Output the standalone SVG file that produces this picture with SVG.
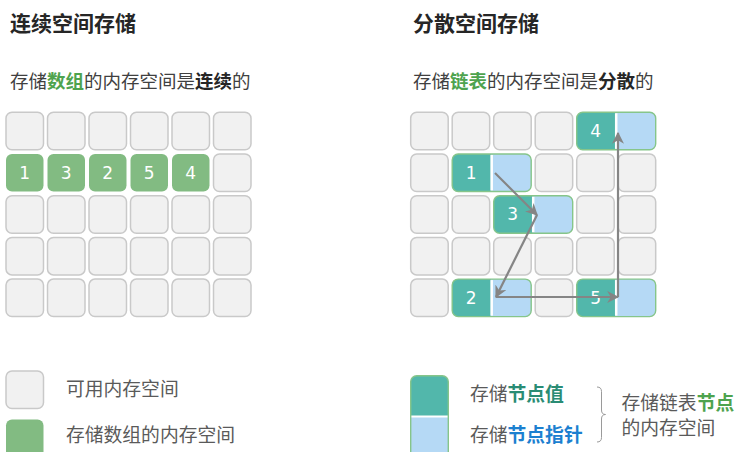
<svg xmlns="http://www.w3.org/2000/svg" xmlns:xlink="http://www.w3.org/1999/xlink" width="735" height="452" viewBox="0 0 735 452">
<style>
text{font-family:"Noto Sans CJK SC","Noto Sans",sans-serif;}
.title{font-size:21px;font-weight:bold;fill:#262626;}
.sub{font-size:18.5px;fill:#404040;}
.b{font-weight:bold;}
.g{fill:#4ea34e;font-weight:bold;}
.cell{fill:#f1f1f1;stroke:#c9c9c9;stroke-width:1.5;}
.arr{fill:#82bb82;}
.num{font-family:"DejaVu Sans",sans-serif;font-size:17px;fill:#ffffff;text-anchor:middle;}
.leg{font-size:18.8px;fill:#5a5a5a;}
.conn{fill:none;stroke:#858585;stroke-width:2.2;marker-end:url(#ah);}
</style>
<defs>
<marker id="ah" viewBox="0 0 10 10" refX="9" refY="5" markerWidth="5.5" markerHeight="5.5" orient="auto" markerUnits="strokeWidth">
<path d="M0,0 L10,5 L0,10 L3,5 Z" fill="#858585"/>
</marker>
<rect id="c" class="cell" width="37.5" height="37.5" rx="6"/>
<g id="nd">
<rect width="79" height="37.5" rx="6" fill="#b5d9f5"/>
<path d="M6,0 H38.5 V37.5 H6 A6,6 0 0 1 0,31.5 V6 A6,6 0 0 1 6,0 Z" fill="#52b7ab"/>
<line x1="39.5" y1="1" x2="39.5" y2="36.5" stroke="#ffffff" stroke-width="2.5"/>
<rect width="79" height="37.5" rx="6" fill="none" stroke="#86c58a" stroke-width="1.4"/>
</g>
</defs>

<g id="left-title">
<text class="title" x="10" y="31">连续空间存储</text>
<text class="sub" x="10" y="88">存储<tspan class="g">数组</tspan>的内存空间是<tspan class="b" fill="#262626">连续</tspan>的</text>
</g>
<g id="right-title">
<text class="title" x="413" y="31">分散空间存储</text>
<text class="sub" x="413" y="88">存储<tspan class="g">链表</tspan>的内存空间是<tspan class="b" fill="#262626">分散</tspan>的</text>
</g>

<g id="left-grid">
<use href="#c" x="6" y="112.3"/><use href="#c" x="47.5" y="112.3"/><use href="#c" x="89" y="112.3"/><use href="#c" x="130.5" y="112.3"/><use href="#c" x="172" y="112.3"/><use href="#c" x="213.5" y="112.3"/>
<use href="#c" x="213.5" y="154"/>
<use href="#c" x="6" y="195.7"/><use href="#c" x="47.5" y="195.7"/><use href="#c" x="89" y="195.7"/><use href="#c" x="130.5" y="195.7"/><use href="#c" x="172" y="195.7"/><use href="#c" x="213.5" y="195.7"/>
<use href="#c" x="6" y="237.4"/><use href="#c" x="47.5" y="237.4"/><use href="#c" x="89" y="237.4"/><use href="#c" x="130.5" y="237.4"/><use href="#c" x="172" y="237.4"/><use href="#c" x="213.5" y="237.4"/>
<use href="#c" x="6" y="279.1"/><use href="#c" x="47.5" y="279.1"/><use href="#c" x="89" y="279.1"/><use href="#c" x="130.5" y="279.1"/><use href="#c" x="172" y="279.1"/><use href="#c" x="213.5" y="279.1"/>
</g>
<g id="array">
<g id="a0"><rect class="arr" x="6" y="154" width="37.5" height="37.5" rx="6"/><text class="num" x="24.75" y="178.8">1</text></g>
<g id="a1"><rect class="arr" x="47.5" y="154" width="37.5" height="37.5" rx="6"/><text class="num" x="66.25" y="178.8">3</text></g>
<g id="a2"><rect class="arr" x="89" y="154" width="37.5" height="37.5" rx="6"/><text class="num" x="107.75" y="178.8">2</text></g>
<g id="a3"><rect class="arr" x="130.5" y="154" width="37.5" height="37.5" rx="6"/><text class="num" x="149.25" y="178.8">5</text></g>
<g id="a4"><rect class="arr" x="172" y="154" width="37.5" height="37.5" rx="6"/><text class="num" x="190.75" y="178.8">4</text></g>
</g>

<g id="right-grid">
<use href="#c" x="410.7" y="112.3"/><use href="#c" x="452.2" y="112.3"/><use href="#c" x="493.7" y="112.3"/><use href="#c" x="535.2" y="112.3"/>
<use href="#c" x="410.7" y="154"/><use href="#c" x="535.2" y="154"/><use href="#c" x="576.7" y="154"/><use href="#c" x="618.2" y="154"/>
<use href="#c" x="410.7" y="195.7"/><use href="#c" x="452.2" y="195.7"/><use href="#c" x="576.7" y="195.7"/><use href="#c" x="618.2" y="195.7"/>
<use href="#c" x="410.7" y="237.4"/><use href="#c" x="452.2" y="237.4"/><use href="#c" x="493.7" y="237.4"/><use href="#c" x="535.2" y="237.4"/><use href="#c" x="576.7" y="237.4"/><use href="#c" x="618.2" y="237.4"/>
<use href="#c" x="410.7" y="279.1"/><use href="#c" x="535.2" y="279.1"/>
</g>

<g id="node1" transform="translate(452.2,154)"><use href="#nd"/><text class="num" x="19" y="24.8">1</text></g>
<g id="node3" transform="translate(493.7,195.7)"><use href="#nd"/><text class="num" x="19" y="24.8">3</text></g>
<g id="node2" transform="translate(452.2,279.1)"><use href="#nd"/><text class="num" x="19" y="24.8">2</text></g>
<g id="node5" transform="translate(576.7,279.1)"><use href="#nd"/><text class="num" x="19" y="24.8">5</text></g>
<g id="node4" transform="translate(576.7,112.3)"><use href="#nd"/><text class="num" x="19" y="24.8">4</text></g>

<g id="connectors">
<path class="conn" d="M495,173 L537,215"/>
<path class="conn" d="M537,215 L496,297"/>
<path class="conn" d="M496,297 L618,297"/>
<path class="conn" d="M618,297 L618,133"/>
</g>

<g id="legend-left">
<rect class="cell" x="6" y="371" width="37.5" height="37.5" rx="6"/>
<text class="leg" x="66" y="396">可用内存空间</text>
<rect class="arr" x="6" y="419.5" width="37.5" height="40" rx="6"/>
<text class="leg" x="66" y="442">存储数组的内存空间</text>
</g>

<g id="legend-right">
<path d="M416.7,375.7 H442.3 A6,6 0 0 1 448.3,381.7 V416 H410.7 V381.7 A6,6 0 0 1 416.7,375.7 Z" fill="#52b7ab"/>
<rect x="410.7" y="417" width="37.6" height="45" fill="#b5d9f5"/>
<line x1="410.7" y1="416.5" x2="448.3" y2="416.5" stroke="#ffffff" stroke-width="2"/>
<path d="M410.7,462 V381.7 A6,6 0 0 1 416.7,375.7 H442.3 A6,6 0 0 1 448.3,381.7 V462" fill="none" stroke="#86c58a" stroke-width="1.4"/>
<text class="leg" x="470" y="401">存储<tspan class="b" fill="#2a8c74">节点值</tspan></text>
<text class="leg" x="470" y="442">存储<tspan class="b" fill="#1c80d0">节点指针</tspan></text>
<path d="M597,387 Q601.5,387 601.5,391.5 V410 Q601.5,414.5 605.5,414.5 Q601.5,414.5 601.5,419 V437.5 Q601.5,442 597,442" fill="none" stroke="#9a9a9a" stroke-width="1"/>
<text class="leg" x="621.5" y="410">存储链表<tspan class="g">节点</tspan></text>
<text class="leg" x="621.5" y="435">的内存空间</text>
</g>
</svg>
